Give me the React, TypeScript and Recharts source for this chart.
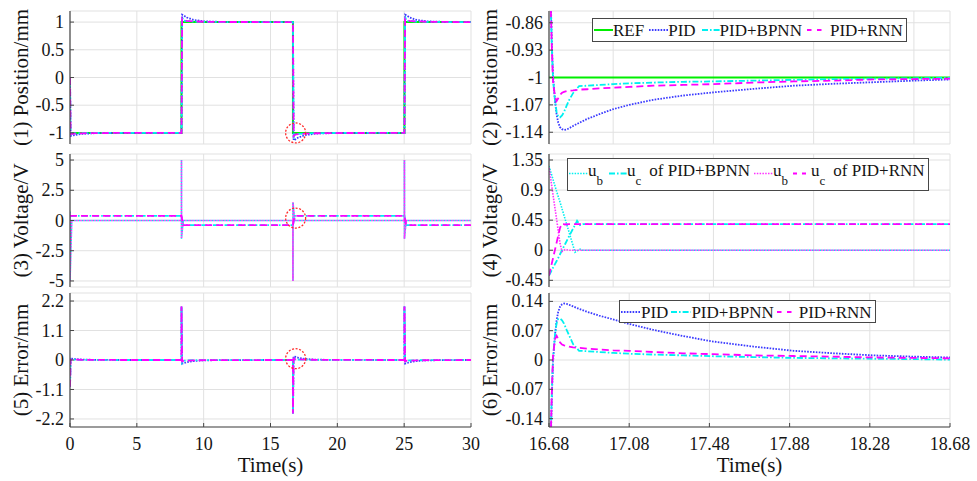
import React from 'react';
import { LineChart, Line, XAxis, YAxis, CartesianGrid, ReferenceDot, Legend } from 'recharts';

const FONT = "'Liberation Serif', Tinos, 'Times New Roman', 'DejaVu Serif', serif";
const FRAME = '#474747';
const GRID = '#e1e1e1';
const TXT = '#151515';

// ---------------- axis ticks ----------------
const leftXTicks = [0, 5, 10, 15, 20, 25, 30];
const rightXTicksTop = [17, 17.5, 18, 18.5];
const rightXTicksBottom = [16.68, 17.08, 17.48, 17.88, 18.28, 18.68];
const p1YTicks = [-1, -0.5, 0, 0.5, 1];
const p2YTicks = [-1.14, -1.07, -1, -0.93, -0.86];
const p3YTicks = [-5, -2.5, 0, 2.5, 5];
const p4YTicks = [-0.45, 0, 0.45, 0.9, 1.35];
const p5YTicks = [-2.2, -1.1, 0, 1.1, 2.2];
const p6YTicks = [-0.14, -0.07, 0, 0.07, 0.14];

// ---------------- panel (1): position, full range ----------------
const tP1 = [0, 0, 0.05, 0.15, 0.4, 0.9, 1.7, 3.2,
  8.34, 8.34, 8.39, 8.49, 8.74, 9.24, 10.04, 11.54,
  16.68, 16.68, 16.73, 16.83, 17.08, 17.58, 18.38, 19.88,
  25.02, 25.02, 25.07, 25.17, 25.42, 25.92, 26.72, 28.22,
  30];
const p1Ref = [-1, -1, -1, -1, -1, -1, -1, -1,
  -1, 1, 1, 1, 1, 1, 1, 1,
  1, -1, -1, -1, -1, -1, -1, -1,
  -1, 1, 1, 1, 1, 1, 1, 1,
  1];
const p1Pid = [0, 0, -1.055, -1.05, -1.035, -1.018, -1.006, -1.001,
  -1, -1, 1.133, 1.122, 1.083, 1.04, 1.013, 1.002,
  1, 1, -1.133, -1.122, -1.083, -1.04, -1.013, -1.002,
  -1, -1, 1.133, 1.122, 1.083, 1.04, 1.013, 1.002,
  1];
const p1Bp = [0, 0, -1.04, -1.012, -1.009, -1.005, -1.002, -1,
  -1, -1, 1.097, 1.025, 1.017, 1.01, 1.004, 1.001,
  1, 1, -1.097, -1.025, -1.017, -1.01, -1.004, -1.001,
  -1, -1, 1.097, 1.025, 1.017, 1.01, 1.004, 1.001,
  1];
const p1Rnn = [0, 0, -1.025, -1.015, -1.011, -1.007, -1.003, -1.001,
  -1, -1, 1.057, 1.029, 1.022, 1.013, 1.006, 1.002,
  1, 1, -1.057, -1.029, -1.022, -1.013, -1.006, -1.002,
  -1, -1, 1.057, 1.029, 1.022, 1.013, 1.006, 1.002,
  1];

// ---------------- panel (3): voltage, full range ----------------
const tV1 = [0, 0, 0.13, 8.34, 8.34, 8.34, 8.47, 16.68, 16.68, 16.68, 16.81, 25.02, 25.02, 25.02, 25.15, 30];
const v1UbB = [0.75, -5, 0, 0, 5, -1.5, 0, 0, -5, 1.5, 0, 0, 5, -1.5, 0, 0];
const v1UcB = [0.39, 0.39, 0.39, 0.39, 0.39, 0.39, -0.39, -0.39, -0.39, -0.39, 0.39, 0.39, 0.39, 0.39, -0.39, -0.39];
const v1UbR = [0.75, -5, 0, 0, 5, -1.5, 0, 0, -5, 1.5, 0, 0, 5, -1.5, 0, 0];
const v1UcR = [0.39, 0.39, 0.39, 0.39, 0.39, 0.39, -0.39, -0.39, -0.39, -0.39, 0.39, 0.39, 0.39, 0.39, -0.39, -0.39];

// ---------------- panel (5): error, full range ----------------
const tE1 = [0, 0.05, 0.15, 0.4, 0.9, 1.7, 3.2,
  8.34, 8.34, 8.39, 8.49, 8.74, 9.24, 10.04, 11.54,
  16.68, 16.68, 16.73, 16.83, 17.08, 17.58, 18.38, 19.88,
  25.02, 25.02, 25.07, 25.17, 25.42, 25.92, 26.72, 28.22,
  30];
const e1Pid = [-1, 0.055, 0.05, 0.035, 0.018, 0.006, 0.001,
  0, 2, -0.133, -0.122, -0.083, -0.04, -0.013, -0.002,
  0, -2, 0.133, 0.122, 0.083, 0.04, 0.013, 0.002,
  0, 2, -0.133, -0.122, -0.083, -0.04, -0.013, -0.002,
  0];
const e1Bp = [-1, 0.04, 0.012, 0.009, 0.005, 0.002, 0,
  0, 2, -0.097, -0.025, -0.017, -0.01, -0.004, -0.001,
  0, -2, 0.097, 0.025, 0.017, 0.01, 0.004, 0.001,
  0, 2, -0.097, -0.025, -0.017, -0.01, -0.004, -0.001,
  0];
const e1Rnn = [-1, 0.025, 0.015, 0.011, 0.007, 0.003, 0.001,
  0, 2, -0.057, -0.029, -0.022, -0.013, -0.006, -0.002,
  0, -2, 0.057, 0.029, 0.022, 0.013, 0.006, 0.002,
  0, 2, -0.057, -0.029, -0.022, -0.013, -0.006, -0.002,
  0];

// ---------------- panels (2) and (6): zoomed window ----------------
const tR = [16.68, 16.688, 16.694, 16.7, 16.71, 16.718, 16.726, 16.735, 16.745, 16.755, 16.768, 16.78, 16.8,
  16.83, 16.87, 16.93, 17, 17.08, 17.2, 17.35, 17.5, 17.7, 17.9, 18.1, 18.3, 18.5, 18.68];
const p2Ref = [-1, -1, -1, -1, -1, -1, -1, -1, -1, -1, -1, -1, -1, -1, -1, -1, -1, -1, -1, -1, -1, -1, -1, -1, -1, -1, -1];
const p2Pid = [1, -0.78, -0.91, -0.995, -1.06, -1.095, -1.115, -1.127, -1.132, -1.134, -1.133, -1.13, -1.124,
  -1.116, -1.106, -1.094, -1.081, -1.07, -1.057, -1.046, -1.038, -1.029, -1.021, -1.016, -1.012, -1.008, -1.005];
const p2Bp = [1, -0.8, -0.92, -1.005, -1.06, -1.088, -1.1, -1.102, -1.097, -1.088, -1.072, -1.058, -1.04,
  -1.022, -1.021, -1.019, -1.017, -1.015, -1.013, -1.011, -1.01, -1.008, -1.006, -1.004, -1.003, -1.002, -1.001];
const p2Rnn = [1, -0.8, -0.92, -1.01, -1.05, -1.06, -1.053, -1.044, -1.039, -1.037, -1.035, -1.034, -1.033,
  -1.031, -1.03, -1.028, -1.026, -1.024, -1.021, -1.019, -1.017, -1.013, -1.01, -1.008, -1.005, -1.004, -1.003];
const e2Pid = [-2, -0.22, -0.09, -0.005, 0.06, 0.095, 0.115, 0.127, 0.133, 0.135, 0.134, 0.132, 0.128,
  0.122, 0.115, 0.106, 0.097, 0.086, 0.072, 0.057, 0.044, 0.032, 0.022, 0.016, 0.011, 0.008, 0.006];
const e2Bp = [-2, -0.2, -0.08, 0.005, 0.06, 0.088, 0.098, 0.099, 0.095, 0.087, 0.072, 0.059, 0.038,
  0.022, 0.021, 0.019, 0.017, 0.015, 0.013, 0.011, 0.009, 0.007, 0.005, 0.004, 0.003, 0.002, 0.001];
const e2Rnn = [-2, -0.2, -0.08, 0.01, 0.05, 0.058, 0.05, 0.042, 0.037, 0.035, 0.034, 0.032, 0.03,
  0.029, 0.027, 0.025, 0.023, 0.022, 0.019, 0.016, 0.014, 0.011, 0.0095, 0.008, 0.006, 0.005, 0.004];

// ---------------- panel (4): voltage, zoomed window ----------------
const tV2 = [16.68, 16.7, 16.72, 16.735, 16.745, 16.76, 16.78, 16.81, 16.82, 16.835, 16.85, 17, 17.5, 18, 18.68];
const v2UbB = [1.26, 1.06, 0.86, 0.72, 0.62, 0.47, 0.27, -0.03, -0.01, 0.015, 0, 0, 0, 0, 0];
const v2UcB = [-0.38, -0.26, -0.15, -0.06, 0, 0.09, 0.21, 0.38, 0.44, 0.375, 0.39, 0.39, 0.39, 0.39, 0.39];
const v2UbR = [1.25, 0.83, 0.42, 0.1, -0.02, 0.01, 0, 0, 0, 0, 0, 0, 0, 0, 0];
const v2UcR = [-0.38, -0.12, 0.14, 0.335, 0.4, 0.385, 0.39, 0.39, 0.39, 0.39, 0.39, 0.39, 0.39, 0.39, 0.39];

// ---------------- tables built from the arrays ----------------
const p1Data = tP1.map((t, i) => ({ t, ref: p1Ref[i], pid: p1Pid[i], bp: p1Bp[i], rnn: p1Rnn[i] }));
const p2Data = tR.map((t, i) => ({ t, ref: p2Ref[i], pid: p2Pid[i], bp: p2Bp[i], rnn: p2Rnn[i] }));
const p3Data = tV1.map((t, i) => ({ t, ubB: v1UbB[i], ucB: v1UcB[i], ubR: v1UbR[i], ucR: v1UcR[i] }));
const p4Data = tV2.map((t, i) => ({ t, ubB: v2UbB[i], ucB: v2UcB[i], ubR: v2UbR[i], ucR: v2UcR[i] }));
const p5Data = tE1.map((t, i) => ({ t, pid: e1Pid[i], bp: e1Bp[i], rnn: e1Rnn[i] }));
const p6Data = tR.map((t, i) => ({ t, pid: e2Pid[i], bp: e2Bp[i], rnn: e2Rnn[i] }));

// ---------------- styles ----------------
type Sty = { stroke: string; width: number; dash?: string; offset?: number };
const REF_S: Sty = { stroke: '#00ee00', width: 2 };
const PID_S: Sty = { stroke: '#3b3bff', width: 1.8, dash: '1.6 1.3' };
const BP_S: Sty = { stroke: '#00f0f0', width: 1.8, dash: '6 2 1.6 2' };
const RNN_S: Sty = { stroke: '#ff00ff', width: 1.8, dash: '7 4' };
const UBB_S: Sty = { stroke: '#00f0f0', width: 1.6, dash: '1.5 1.3' };
const UBR_S: Sty = { stroke: '#ff30ff', width: 1.6, dash: '1.5 1.3', offset: 1.4 };

type LineSpec = { key: string; s: Sty };

// ---------------- ticks / titles ----------------
const BottomTick = (props: any) => {
  const { x, y, payload, show } = props;
  return (
    <g>
      <line x1={x} y1={y} x2={x} y2={y - 4} stroke={FRAME} strokeWidth={1} />
      {show ? (
        <text x={x} y={y + 23} textAnchor="middle" fontSize={18} fontFamily={FONT} fill={TXT}>
          {String(payload.value)}
        </text>
      ) : null}
    </g>
  );
};
const TopTick = (props: any) => {
  const { x, y } = props;
  return <line x1={x} y1={y} x2={x} y2={y + 4} stroke={FRAME} strokeWidth={1} />;
};
const LeftTick = (props: any) => {
  const { x, y, payload } = props;
  return (
    <g>
      <line x1={x} y1={y} x2={x + 4} y2={y} stroke={FRAME} strokeWidth={1} />
      <text x={x - 6} y={y} dy="0.34em" textAnchor="end" fontSize={18} fontFamily={FONT} fill={TXT}>
        {String(payload.value)}
      </text>
    </g>
  );
};
const RightTick = (props: any) => {
  const { x, y } = props;
  return <line x1={x} y1={y} x2={x - 4} y2={y} stroke={FRAME} strokeWidth={1} />;
};
const YTitle = (props: any) => {
  const { tx, ty, txt } = props;
  return (
    <text x={tx} y={ty} transform={`rotate(-90, ${tx}, ${ty})`} textAnchor="middle" fontSize={21} fontFamily={FONT} fill={TXT}>
      {txt}
    </text>
  );
};
const XTitle = (props: any) => {
  const { tx, ty, txt } = props;
  return (
    <text x={tx} y={ty} textAnchor="middle" fontSize={21} fontFamily={FONT} fill={TXT}>
      {txt}
    </text>
  );
};

// ---------------- legend ----------------
type LegItem = { s: Sty; dash?: string; w: number; gap?: number; textGap?: number; label: React.ReactNode };
const Sub = ({ children }: { children: React.ReactNode }) => (
  <span style={{ fontSize: 13, position: 'relative', top: 9 }}>{children}</span>
);
const LegendBox = ({ items, padBottom, sampleY }: { items: LegItem[]; padBottom: number; sampleY: number }) => (
  <div
    style={{
      display: 'inline-flex', alignItems: 'flex-start', background: '#fff', border: `1px solid ${FRAME}`,
      padding: `3px 3px ${padBottom}px 1px`, fontFamily: FONT, fontSize: 17, lineHeight: '17px', color: TXT,
      whiteSpace: 'nowrap',
    }}
  >
    {items.map((it, i) => (
      <div key={i} style={{ display: 'flex', alignItems: 'flex-start', marginLeft: i ? (it.gap ?? 4) : 0 }}>
        <svg width={it.w} height={17} style={{ display: 'block' }}>
          <line x1={0} x2={it.w} y1={sampleY} y2={sampleY} stroke={it.s.stroke} strokeWidth={it.s.width}
            strokeDasharray={it.dash ?? it.s.dash} />
        </svg>
        <span style={{ marginLeft: it.textGap ?? 0 }}>{it.label}</span>
      </div>
    ))}
  </div>
);

const legend2: LegItem[] = [
  { s: REF_S, w: 19, label: 'REF' },
  { s: PID_S, w: 19, gap: 5, label: 'PID' },
  { s: BP_S, w: 18, gap: 6, label: 'PID+BPNN' },
  { s: RNN_S, dash: '4.5 5.5', w: 19, gap: 5, textGap: 4, label: 'PID+RNN' },
];
const legend4: LegItem[] = [
  { s: UBB_S, w: 19, label: <>u<Sub>b</Sub></> },
  { s: BP_S, w: 18, gap: 6, label: <>u<Sub>c</Sub><span style={{ marginLeft: 8 }}>of PID+BPNN</span></> },
  { s: UBR_S, w: 19, gap: 4, label: <>u<Sub>b</Sub></> },
  { s: RNN_S, dash: '4 5', w: 15, gap: 5, textGap: 3, label: <>u<Sub>c</Sub><span style={{ marginLeft: 8 }}>of PID+RNN</span></> },
];
const legend6: LegItem[] = [
  { s: PID_S, w: 20, label: 'PID' },
  { s: BP_S, w: 20, gap: 3, label: 'PID+BPNN' },
  { s: RNN_S, dash: '4.5 5.5', w: 19, gap: 3, textGap: 3, label: 'PID+RNN' },
];

// ---------------- panel ----------------
type PanelProps = {
  px: number; py: number; w: number; h: number;
  data: any[]; xDomain: [number, number]; xTicks: number[]; topTicks: number[]; showX: boolean;
  yDomain: [number, number]; yTicks: number[]; yLabel: string; yLabelX: number;
  lines: LineSpec[];
  legend?: { items: LegItem[]; x: number; y: number; padBottom: number; sampleY: number };
  circle?: { x: number; y: number };
};

const Panel = (p: PanelProps) => {
  const YW = 70, MT = 9, MR = 26;
  const XH = p.showX ? 52 : 0;
  const MB = p.showX ? 0 : 8;
  const left = p.px - YW;
  const top = p.py - MT;
  const width = YW + p.w + MR;
  const height = MT + p.h + XH + MB;
  return (
    <div style={{ position: 'absolute', left, top, width, height }}>
      <LineChart width={width} height={height} data={p.data} margin={{ top: MT, right: MR, bottom: MB, left: 0 }}>
        <CartesianGrid stroke={GRID} strokeWidth={1} />
        <XAxis dataKey="t" type="number" domain={p.xDomain} ticks={p.xTicks} allowDataOverflow interval={0}
          height={XH} tickLine={false} tickSize={0} tickMargin={0} axisLine={{ stroke: FRAME, strokeWidth: 1.2 }}
          tick={(tp: any) => <BottomTick {...tp} show={p.showX} />}
          label={p.showX ? <XTitle tx={YW + p.w / 2} ty={MT + p.h + 45} txt="Time(s)" /> : undefined} />
        <XAxis xAxisId="top" orientation="top" dataKey="t" type="number" domain={p.xDomain} ticks={p.topTicks}
          allowDataOverflow interval={0} height={0} tickLine={false} tickSize={0} tickMargin={0}
          axisLine={{ stroke: FRAME, strokeWidth: 1.2 }} tick={(tp: any) => <TopTick {...tp} />} />
        <YAxis type="number" domain={p.yDomain} ticks={p.yTicks} allowDataOverflow interval={0} width={YW}
          tickLine={false} tickSize={0} tickMargin={0} axisLine={{ stroke: FRAME, strokeWidth: 1.2 }}
          tick={(tp: any) => <LeftTick {...tp} />}
          label={<YTitle tx={p.yLabelX - left} ty={MT + p.h / 2} txt={p.yLabel} />} />
        <YAxis yAxisId="right" orientation="right" type="number" domain={p.yDomain} ticks={p.yTicks}
          allowDataOverflow interval={0} width={0} tickLine={false} tickSize={0} tickMargin={0}
          axisLine={{ stroke: FRAME, strokeWidth: 1.2 }} tick={(tp: any) => <RightTick {...tp} />} />
        {p.lines.map((l) => (
          <Line key={l.key} type="linear" dataKey={l.key} stroke={l.s.stroke} strokeWidth={l.s.width}
            strokeDasharray={l.s.dash} strokeDashoffset={l.s.offset} dot={false} activeDot={false}
            isAnimationActive={false} />
        ))}
        {p.circle ? (
          <ReferenceDot x={p.circle.x} y={p.circle.y} r={10} fill="none" stroke="#ff2a2a" strokeWidth={1.3}
            strokeDasharray="2 1.6" />
        ) : null}
        {p.legend ? (
          <Legend layout="vertical" align="center" verticalAlign="middle"
            wrapperStyle={{ left: p.legend.x - left, top: p.legend.y - top, width: 'auto', height: 'auto' }}
            content={() => <LegendBox items={p.legend!.items} padBottom={p.legend!.padBottom} sampleY={p.legend!.sampleY} />} />
        ) : null}
      </LineChart>
    </div>
  );
};

const posLines: LineSpec[] = [
  { key: 'ref', s: REF_S }, { key: 'pid', s: PID_S }, { key: 'bp', s: BP_S }, { key: 'rnn', s: RNN_S },
];
const voltLines: LineSpec[] = [
  { key: 'ubB', s: UBB_S }, { key: 'ucB', s: BP_S }, { key: 'ubR', s: UBR_S }, { key: 'ucR', s: RNN_S },
];
const errLines: LineSpec[] = [{ key: 'pid', s: PID_S }, { key: 'bp', s: BP_S }, { key: 'rnn', s: RNN_S }];

export default function App() {
  const LX = 70, RX = 549, W = 401;
  const LL = 28, RL = 497;
  return (
    <div style={{ position: 'absolute', left: 0, top: 0, width: 977, height: 481, background: '#fff', overflow: 'hidden', fontFamily: FONT }}>
      <Panel px={LX} py={11} w={W} h={133} data={p1Data} xDomain={[0, 30]} xTicks={leftXTicks} topTicks={leftXTicks}
        showX={false} yDomain={[-1.2, 1.2]} yTicks={p1YTicks} yLabel="(1) Position/mm" yLabelX={LL}
        lines={posLines} circle={{ x: 16.88, y: -1 }} />
      <Panel px={RX} py={11} w={W} h={133} data={p2Data} xDomain={[16.68, 18.68]} xTicks={rightXTicksTop}
        topTicks={rightXTicksTop} showX={false} yDomain={[-1.17, -0.83]} yTicks={p2YTicks} yLabel="(2) Position/mm"
        yLabelX={RL} lines={posLines} legend={{ items: legend2, x: 592, y: 18, padBottom: 2, sampleY: 8 }} />
      <Panel px={LX} py={154} w={W} h={133} data={p3Data} xDomain={[0, 30]} xTicks={leftXTicks} topTicks={leftXTicks}
        showX={false} yDomain={[-5.5, 5.5]} yTicks={p3YTicks} yLabel="(3) Voltage/V" yLabelX={LL}
        lines={voltLines} circle={{ x: 16.88, y: 0.2 }} />
      <Panel px={RX} py={154} w={W} h={133} data={p4Data} xDomain={[16.68, 18.68]} xTicks={rightXTicksTop}
        topTicks={rightXTicksTop} showX={false} yDomain={[-0.55, 1.44]} yTicks={p4YTicks} yLabel="(4) Voltage/V"
        yLabelX={RL} lines={voltLines} legend={{ items: legend4, x: 567, y: 158, padBottom: 10, sampleY: 11.5 }} />
      <Panel px={LX} py={293} w={W} h={134} data={p5Data} xDomain={[0, 30]} xTicks={leftXTicks} topTicks={leftXTicks}
        showX={true} yDomain={[-2.5, 2.5]} yTicks={p5YTicks} yLabel="(5) Error/mm" yLabelX={LL}
        lines={errLines} circle={{ x: 16.88, y: 0.05 }} />
      <Panel px={RX} py={293} w={W} h={134} data={p6Data} xDomain={[16.68, 18.68]} xTicks={rightXTicksBottom}
        topTicks={rightXTicksBottom} showX={true} yDomain={[-0.16, 0.16]} yTicks={p6YTicks} yLabel="(6) Error/mm"
        yLabelX={RL} lines={errLines} legend={{ items: legend6, x: 619, y: 300, padBottom: 1, sampleY: 8 }} />
    </div>
  );
}
